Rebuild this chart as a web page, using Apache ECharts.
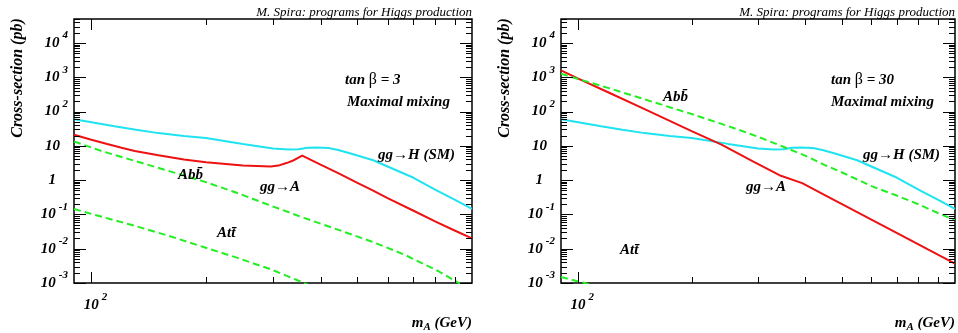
<!DOCTYPE html>
<html><head><meta charset="utf-8">
<script src="https://cdn.jsdelivr.net/npm/echarts@6/dist/echarts.min.js"></script>
<style>html,body{margin:0;padding:0;background:#fff}#c{width:958px;height:333px}</style>
</head><body><div id="c"></div>
<script>
// ---------------- data ----------------
// Standard-model gg->H (same in both panels)
const massSM = [90,100,115,131,150,175,200,250,300,330,350,370,390,420,445,480,500,550,600,700,800,900,1000];
const xsSM   = [60,49,37,29.5,23.5,19.5,16.9,11.4,8.4,7.8,8.0,8.8,9.0,8.6,7.6,6.0,5.2,3.8,2.5,1.19,0.53,0.27,0.145];

// tan beta = 3
const massGGA3 = [90,100,110,120,130,150,175,200,250,296,310,327,340,350,358,400,445,500,545,600,700,800,900,1000];
const xsGGA3   = [21,15,11.3,8.8,7.1,5.3,4.0,3.3,2.65,2.5,2.65,3.2,3.8,4.5,5.2,2.84,1.6,0.83,0.52,0.30,0.13,0.063,0.034,0.020];
const massBB3  = [90,107,131.5,161,197,242,296,362,444,544,665,817,903,1000];
const xsBB3    = [13.4,6.9,3.5,1.8,0.92,0.42,0.18,0.079,0.036,0.0163,0.0067,0.0022,0.00115,0.0006];
const massTT3  = [90,107,131.5,161,197,242,296,355,400];
const xsTT3    = [0.144,0.084,0.045,0.023,0.0112,0.0054,0.0025,0.0011,0.0006];

// tan beta = 30
const massGGA30 = [90,100,120,150,200,240,290,345,393,450,550,700,850,1000];
const xsGGA30   = [1580,910,366,117,27,10.8,3.6,1.34,0.82,0.37,0.117,0.029,0.0094,0.0037];
const massBB30  = [90,100,120,150,200,250,300,350,400,450,500,600,700,800,900,1000];
const xsBB30    = [1260,890,490,227,84.5,37.7,18.5,9.4,5.2,2.8,1.7,0.67,0.356,0.197,0.11,0.068];
const massTT30  = [90,104,120];
const xsTT30    = [0.0015,0.001,0.00062];

// axis ranges and tick values
const xRange = [90, 1000];
const yRange = [1e-3, 5e4];
const yMajorTicks = [1e-3,1e-2,1e-1,1,10,100,1e3,1e4];
const yMinorFactors = [2,3,4,5,6,7,8,9];
const xTickValues = [100,200,300,400,500,600,700,800,900];

// ---------------- chart ----------------
const F = '"Liberation Serif","Times New Roman",serif';
const BI = 'italic bold 15px ' + F;
const pairs = (m, v) => m.map((x, i) => [x, v[i]]);

const yTicks = [];
yMajorTicks.forEach(d => {
  yTicks.push([xRange[0], d, 0, 12]);
  yMinorFactors.forEach(k => { if (k * d <= yRange[1]) yTicks.push([xRange[0], k * d, 0, 6]); });
});
const xTicks = xTickValues.map(v => [v, yRange[0], 1, v === 100 ? 11 : 6]);
const tickData = yTicks.concat(xTicks);

function renderTick(params, api) {
  const cs = params.coordSys;
  const kind = api.value(2), len = api.value(3);
  const p = api.coord([api.value(0), api.value(1)]);
  const st = { stroke: '#000', lineWidth: 1 };
  if (kind === 0) {
    const y = Math.round(p[1]) + 0.5;
    return { type: 'group', children: [
      { type: 'line', shape: { x1: cs.x, y1: y, x2: cs.x + len, y2: y }, style: st },
      { type: 'line', shape: { x1: cs.x + cs.width, y1: y, x2: cs.x + cs.width - len, y2: y }, style: st }
    ]};
  }
  const x = Math.round(p[0]) + 0.5;
  return { type: 'group', children: [
    { type: 'line', shape: { x1: x, y1: cs.y + cs.height, x2: x, y2: cs.y + cs.height - len }, style: st },
    { type: 'line', shape: { x1: x, y1: cs.y, x2: x, y2: cs.y + len }, style: st }
  ]};
}

const labelRich = {
  b: { fontFamily: F, fontWeight: 'bold', fontStyle: 'italic', fontSize: 15, color: '#000' },
  bx: { fontFamily: F, fontWeight: 'bold', fontStyle: 'italic', fontSize: 15, color: '#000', padding: [0, 0, 0, 8] },
  e: { fontFamily: F, fontWeight: 'bold', fontStyle: 'italic', fontSize: 11, color: '#000', padding: [0, 0, 15, 3] },
  p: { fontSize: 11, width: 8 },
  q: { fontSize: 11, width: 12 }
};
function yFmt(v) {
  const e = Math.log10(v), r = Math.round(e);
  if (Math.abs(e - r) > 1e-6) return '';
  if (r === 0) return '{b|1}{q| }';
  if (r === 1) return '{b|10}{p| }';
  return '{b|10}{e|' + r + '}';
}
function xFmt(v) {
  return Math.abs(v - 100) < 1e-6 ? '{bx|10}{e|2}' : '';
}

function xAxis(gi) {
  return { type: 'log', logBase: 10, gridIndex: gi, min: xRange[0], max: xRange[1],
    axisLine: { show: false }, axisTick: { show: false }, splitLine: { show: false },
    axisLabel: { formatter: xFmt, rich: labelRich, margin: 9, showMinLabel: false, showMaxLabel: false } };
}
function yAxis(gi) {
  return { type: 'log', logBase: 10, gridIndex: gi, min: yRange[0], max: yRange[1], splitNumber: 8,
    axisLine: { show: false }, axisTick: { show: false }, splitLine: { show: false },
    axisLabel: { formatter: yFmt, rich: labelRich, margin: 6 } };
}
function line(gi, m, v, color, dashed) {
  return { type: 'line', xAxisIndex: gi, yAxisIndex: gi, data: pairs(m, v), symbol: 'none',
    clip: true, silent: true, z: 3,
    lineStyle: { color: color, width: 2, type: dashed ? [7, 4] : 'solid' } };
}
function ticks(gi) {
  return { type: 'custom', xAxisIndex: gi, yAxisIndex: gi, data: tickData, renderItem: renderTick,
    silent: true, z: 5 };
}

const CY = '#1fe3f0', RD = '#ee1111', GR = '#22ee22';

function t(x, y, text, extra) {
  return { type: 'text', x: x, y: y, silent: true, z: 20,
    style: Object.assign({ text: text, fill: '#000', font: BI, textAlign: 'left', textVerticalAlign: 'middle', align: 'left', verticalAlign: 'middle' }, extra || {}) };
}
const richTan = {
  a: { fontFamily: F, fontWeight: 'bold', fontStyle: 'italic', fontSize: 15 },
  g: { fontFamily: F, fontWeight: 'normal', fontStyle: 'normal', fontSize: 16 }
};
const richM = {
  a: { fontFamily: F, fontWeight: 'bold', fontStyle: 'italic', fontSize: 15 },
  s: { fontFamily: F, fontWeight: 'bold', fontStyle: 'italic', fontSize: 11, padding: [9, 0, 0, 0] }
};
const spiraFont = 'italic 13px ' + F;

const graphics = [];
[[0, 74, 472, '3'], [1, 561, 955, '30']].forEach(([gi, gl, gr, tb]) => {
  graphics.push(t(gr, 19, 'M. Spira: programs for Higgs production',
    { font: spiraFont, textAlign: 'right', align: 'right', textVerticalAlign: 'bottom', verticalAlign: 'bottom' }));
  graphics.push(Object.assign(t(gl - 56, 78, 'Cross-section (pb)', { font: 'italic bold 16px ' + F, textAlign: 'center', align: 'center' }), { rotation: Math.PI / 2 }));
  graphics.push(t(gr, 323, '{a|m}{s|A}{a| (GeV)}', { rich: richM, textAlign: 'right', align: 'right' }));
});
// left panel annotations
graphics.push(t(345, 80, '{a|tan }{g|β}{a| = 3}', { rich: richTan }));
graphics.push(t(347, 102, 'Maximal mixing'));
graphics.push(t(378, 155, 'gg\u2192H (SM)'));
graphics.push(t(178, 175, 'Abb\u0304'));
graphics.push(t(260, 187, 'gg\u2192A'));
graphics.push(t(217, 233, 'Att\u0304'));
// right panel annotations
graphics.push(t(831, 80, '{a|tan }{g|β}{a| = 30}', { rich: richTan }));
graphics.push(t(831, 102, 'Maximal mixing'));
graphics.push(t(663, 97, 'Abb\u0304'));
graphics.push(t(863, 155, 'gg\u2192H (SM)'));
graphics.push(t(746, 187, 'gg\u2192A'));
graphics.push(t(620, 250, 'Att\u0304'));

const chart = echarts.init(document.getElementById('c'), null, { renderer: 'canvas' });
chart.setOption({
  animation: false,
  backgroundColor: '#fff',
  grid: [
    { left: 74, top: 19, width: 398, height: 264, show: true, borderColor: '#000', borderWidth: 1.5, containLabel: false },
    { left: 561, top: 19, width: 394, height: 264, show: true, borderColor: '#000', borderWidth: 1.5, containLabel: false }
  ],
  xAxis: [xAxis(0), xAxis(1)],
  yAxis: [yAxis(0), yAxis(1)],
  series: [
    line(0, massSM, xsSM, CY, false),
    line(0, massGGA3, xsGGA3, RD, false),
    line(0, massBB3, xsBB3, GR, true),
    line(0, massTT3, xsTT3, GR, true),
    ticks(0),
    line(1, massSM, xsSM, CY, false),
    line(1, massGGA30, xsGGA30, RD, false),
    line(1, massBB30, xsBB30, GR, true),
    line(1, massTT30, xsTT30, GR, true),
    ticks(1)
  ],
  graphic: graphics
});
</script>
</body></html>
